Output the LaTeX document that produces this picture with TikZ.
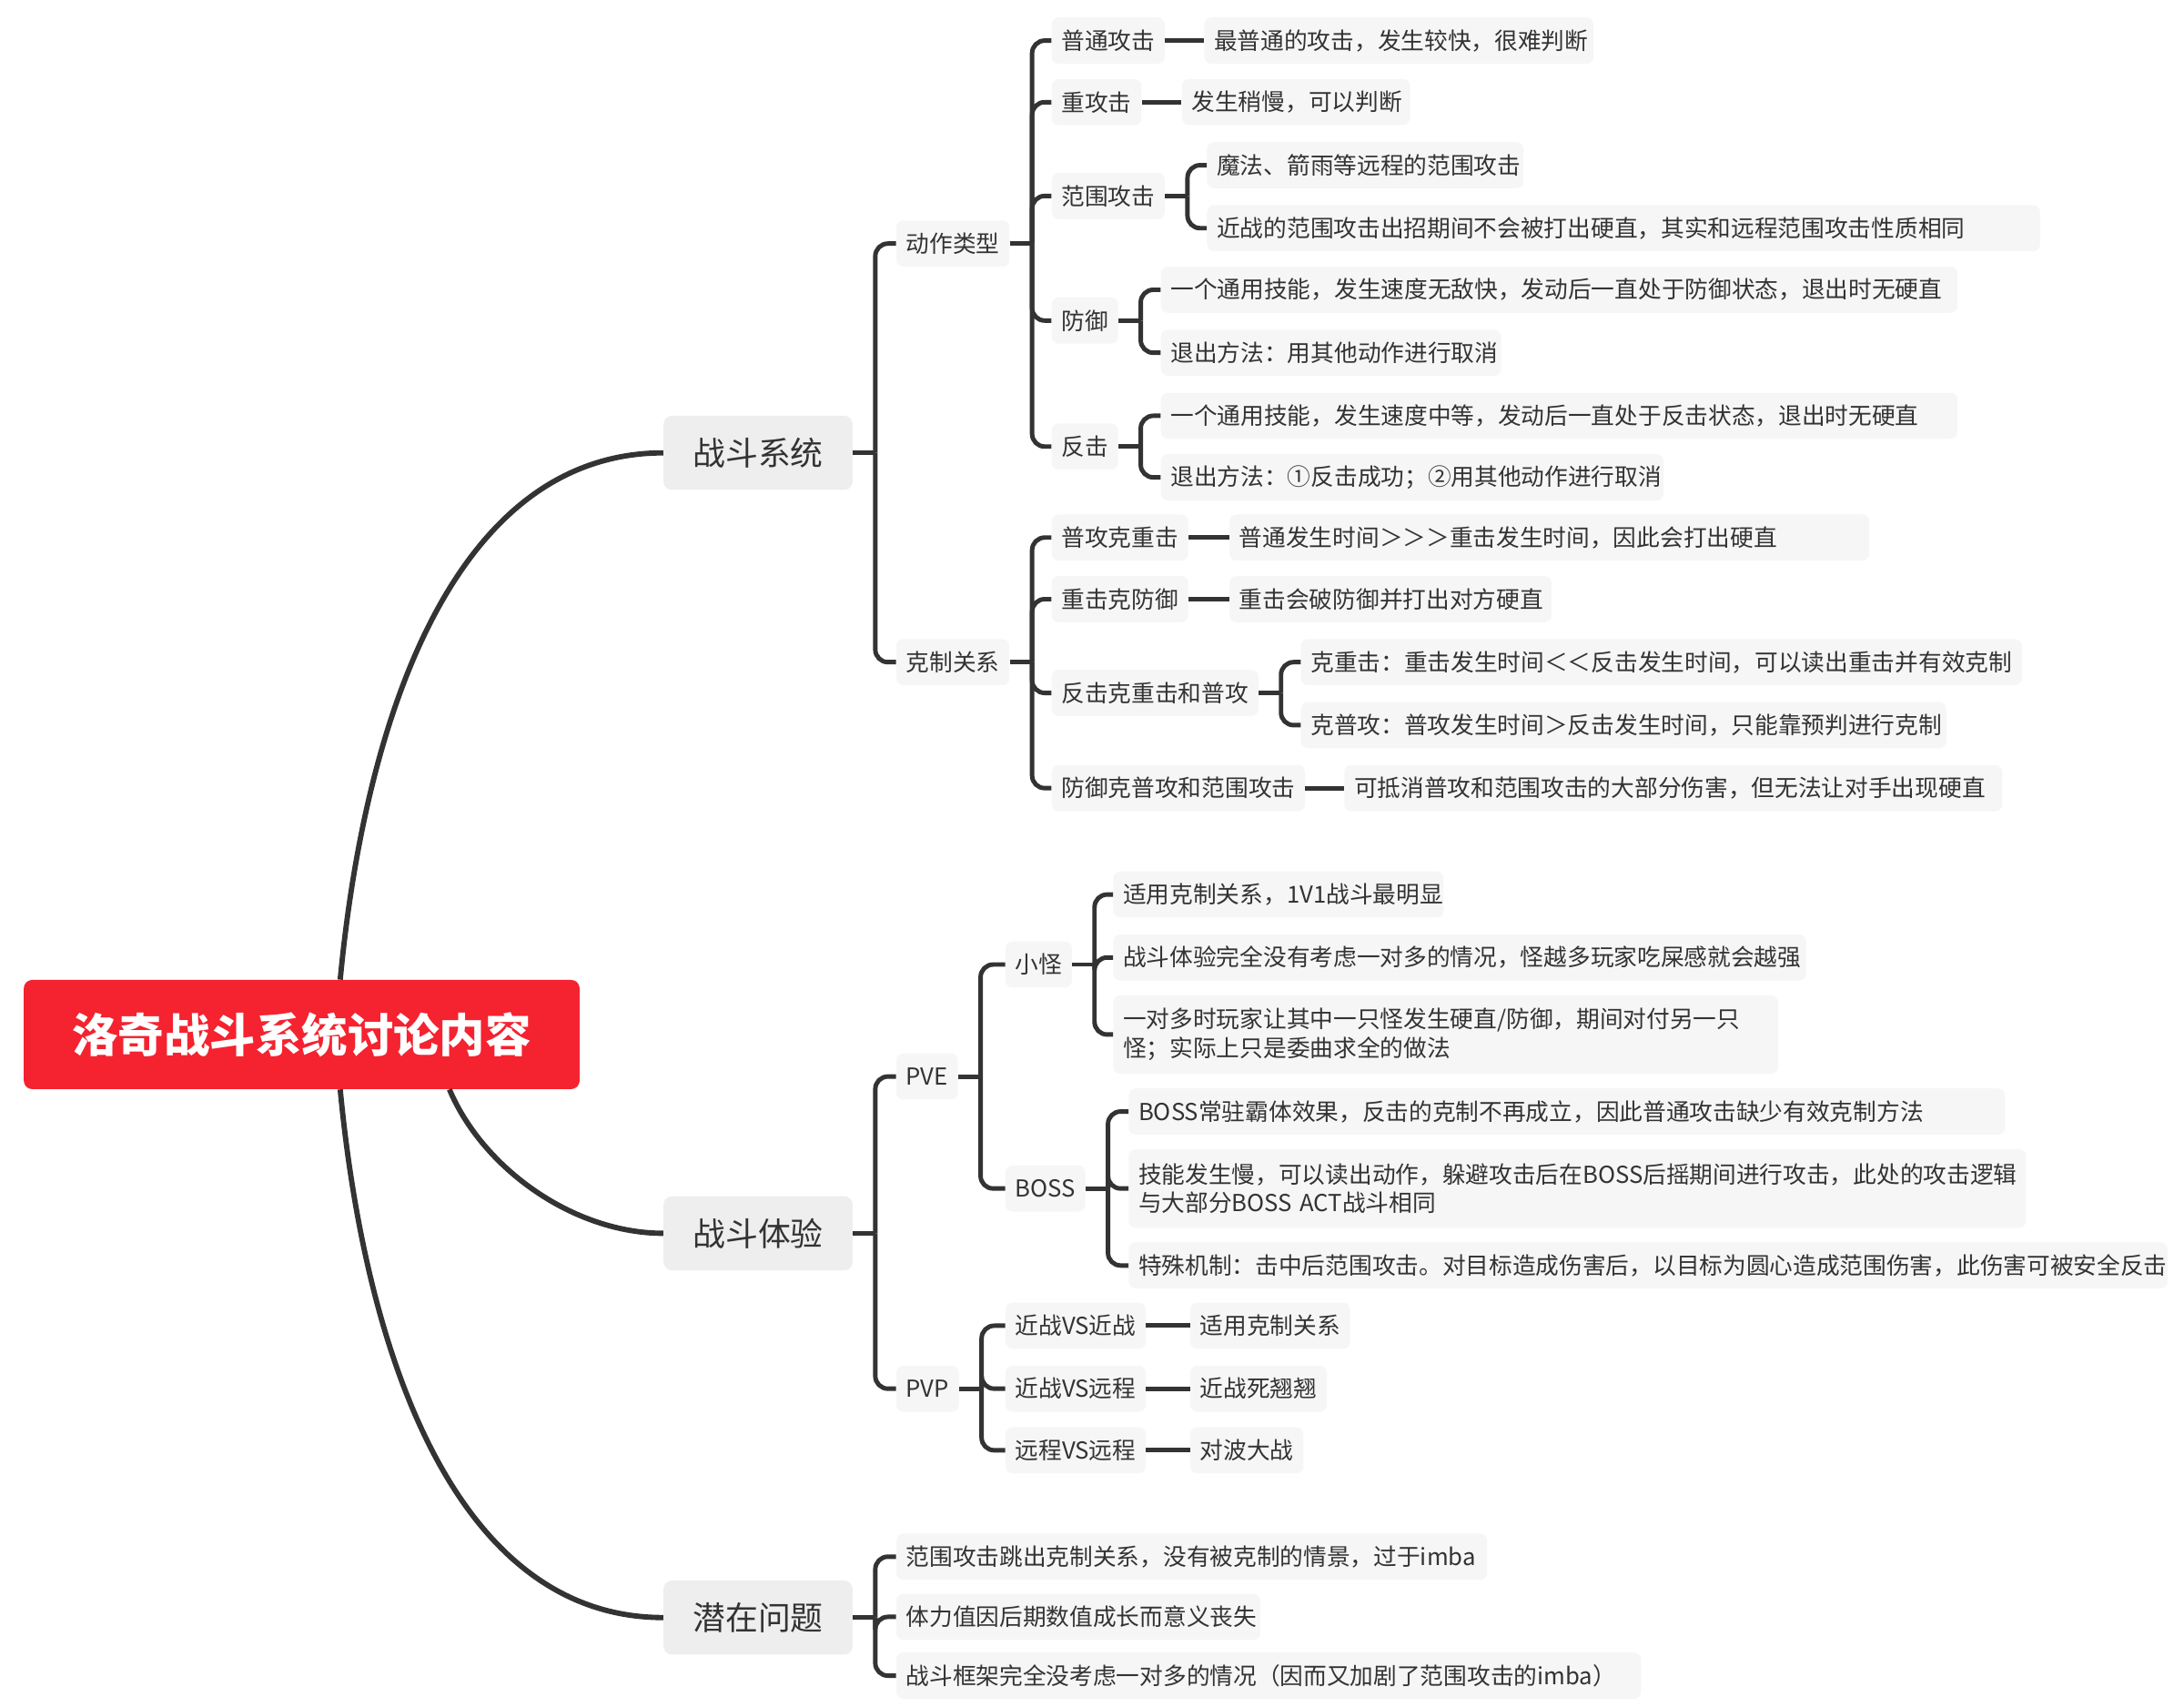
\documentclass[tikz,border=0pt]{standalone}
\usepackage{fontspec}
\setmainfont{Noto Sans CJK SC}
\usepackage{tikz}
\usetikzlibrary{positioning}

\definecolor{rootred}{HTML}{F52230}
\definecolor{topicfill}{HTML}{EEEEEE}
\definecolor{leaffill}{HTML}{F6F6F6}
\definecolor{ink}{HTML}{333333}

\tikzset{
  root/.style={fill=rootred, rounded corners=6pt, text=white,
    font=\fontsize{32.8pt}{38pt}\selectfont\bfseries,
    minimum width=397pt, minimum height=78pt},
  topic/.style={fill=topicfill, rounded corners=6pt, text=ink,
    font=\fontsize{23.3pt}{28pt}\selectfont,
    minimum width=135pt, minimum height=53pt},
  leaf/.style={fill=leaffill, rounded corners=5pt, text=ink,
    font=\fontsize{16.7pt}{20.5pt}\selectfont,
    minimum height=33pt, inner xsep=7pt, inner ysep=0pt, anchor=west},
  tw/.style={text width=#1, align=left},
  conn/.style={draw=ink, line width=3.2pt, rounded corners=9pt},
  curve/.style={draw=ink, line width=3.8pt},
}

\begin{document}
\begin{tikzpicture}[x=1pt,y=-1pt]
  \useasboundingbox (0,0) rectangle (1560,1218.75);

  % centre and topics
  \node[root] (root) at (215.5,739) {洛奇战斗系统讨论内容};
  \node[topic] (zdxt) at (541.5,323.5) {战斗系统};
  \node[topic] (zdty) at (541.5,881) {战斗体验};
  \node[topic] (qzwt) at (541.5,1155.5) {潜在问题};

  \coordinate (r-up) at ([xshift=27.5pt]root.north);
  \coordinate (r-mid) at ([xshift=105.5pt]root.south);
  \coordinate (r-low) at ([xshift=27.5pt]root.south);
  \draw[curve] (r-up) .. controls (262,500) and (330,323.5) .. (zdxt.west);
  \draw[curve] (r-mid) .. controls (345,835) and (410,881) .. (zdty.west);
  \draw[curve] (r-low) .. controls (262,978) and (330,1155.5) .. (qzwt.west);

  % second level
  \node[leaf] (dzlx) at (640,174) {动作类型};
  \node[leaf] (kzgx) at (640,473) {克制关系};
  \node[leaf] (pve) at (640,769) {PVE};
  \node[leaf] (pvp) at (640,992) {PVP};
  \node[leaf,tw=408pt] (wt1) at (640,1112) {范围攻击跳出克制关系，没有被克制的情景，过于imba};
  \node[leaf,tw=246pt] (wt2) at (640,1155) {体力值因后期数值成长而意义丧失};
  \node[leaf,tw=518pt] (wt3) at (640,1197) {战斗框架完全没考虑一对多的情况（因而又加剧了范围攻击的imba）};

  % action types
  \node[leaf] (ptgj) at (751,29) {普通攻击};
  \node[leaf] (zgj) at (751,73) {重攻击};
  \node[leaf] (fwgj) at (751,140) {范围攻击};
  \node[leaf] (fy) at (751,229) {防御};
  \node[leaf] (fj) at (751,319) {反击};

  \node[leaf,tw=264pt] (ptgj-t) at (860,29) {最普通的攻击，发生较快，很难判断};
  \node[leaf,tw=149pt] (zgj-t) at (844,73) {发生稍慢，可以判断};
  \node[leaf,tw=212pt] (fwgj-1) at (862,118) {魔法、箭雨等远程的范围攻击};
  \node[leaf,tw=581pt] (fwgj-2) at (862,163) {近战的范围攻击出招期间不会被打出硬直，其实和远程范围攻击性质相同};
  \node[leaf,tw=555pt] (fy-1) at (829,207) {一个通用技能，发生速度无敌快，发动后一直处于防御状态，退出时无硬直};
  \node[leaf,tw=229pt] (fy-2) at (829,252) {退出方法：用其他动作进行取消};
  \node[leaf,tw=555pt] (fj-1) at (829,297) {一个通用技能，发生速度中等，发动后一直处于反击状态，退出时无硬直};
  \node[leaf,tw=345pt] (fj-2) at (829,341) {退出方法：①反击成功；②用其他动作进行取消};

  % counters
  \node[leaf] (pkz) at (751,384) {普攻克重击};
  \node[leaf] (zkf) at (751,428) {重击克防御};
  \node[leaf] (fkz) at (751,495) {反击克重击和普攻};
  \node[leaf] (fykp) at (751,563) {防御克普攻和范围攻击};

  \node[leaf,tw=443pt] (pkz-t) at (878,384) {普通发生时间＞＞＞重击发生时间，因此会打出硬直};
  \node[leaf,tw=216pt] (zkf-t) at (878,428) {重击会破防御并打出对方硬直};
  \node[leaf,tw=501pt] (fkz-1) at (929,473) {克重击：重击发生时间＜＜反击发生时间，可以读出重击并有效克制};
  \node[leaf,tw=447pt] (fkz-2) at (929,518) {克普攻：普攻发生时间＞反击发生时间，只能靠预判进行克制};
  \node[leaf,tw=456pt] (fykp-t) at (960,563) {可抵消普攻和范围攻击的大部分伤害，但无法让对手出现硬直};

  % PVE / PVP
  \node[leaf] (xg) at (718,689) {小怪};
  \node[leaf] (boss) at (718,849) {BOSS};
  \node[leaf] (jj) at (718,947) {近战VS近战};
  \node[leaf] (jy) at (718,992) {近战VS远程};
  \node[leaf] (yy) at (718,1036) {远程VS远程};

  \node[leaf,tw=222pt] (xg-1) at (795,639) {适用克制关系，1V1战斗最明显};
  \node[leaf,tw=481pt] (xg-2) at (795,684) {战斗体验完全没有考虑一对多的情况，怪越多玩家吃屎感就会越强};
  \node[leaf,tw=461pt,minimum height=56pt] (xg-3) at (795,739) {一对多时玩家让其中一只怪发生硬直/防御，期间对付另一只\\怪；实际上只是委曲求全的做法};
  \node[leaf,tw=612pt] (boss-1) at (806,794) {BOSS常驻霸体效果，反击的克制不再成立，因此普通攻击缺少有效克制方法};
  \node[leaf,tw=627pt,minimum height=56pt] (boss-2) at (806,849) {技能发生慢，可以读出动作，躲避攻击后在BOSS后摇期间进行攻击，此处的攻击逻辑\\与大部分BOSS ACT战斗相同};
  \node[leaf,tw=728pt] (boss-3) at (806,904) {特殊机制：击中后范围攻击。对目标造成伤害后，以目标为圆心造成范围伤害，此伤害可被安全反击};
  \node[leaf] (jj-t) at (850,947) {适用克制关系};
  \node[leaf] (jy-t) at (850,992) {近战死翘翘};
  \node[leaf] (yy-t) at (850,1036) {对波大战};

  % brackets
  \coordinate (zdxt-b) at ([xshift=16pt]zdxt.east);
  \draw[conn] (zdxt.east) -- (zdxt-b);
  \foreach \c in {dzlx,kzgx} \draw[conn] (zdxt-b) |- (\c.west);

  \coordinate (zdty-b) at ([xshift=16pt]zdty.east);
  \draw[conn] (zdty.east) -- (zdty-b);
  \foreach \c in {pve,pvp} \draw[conn] (zdty-b) |- (\c.west);

  \coordinate (qzwt-b) at ([xshift=16pt]qzwt.east);
  \draw[conn] (qzwt.east) -- (qzwt-b);
  \foreach \c in {wt1,wt2,wt3} \draw[conn] (qzwt-b) |- (\c.west);

  \coordinate (dzlx-b) at ([xshift=16pt]dzlx.east);
  \draw[conn] (dzlx.east) -- (dzlx-b);
  \foreach \c in {ptgj,zgj,fwgj,fy,fj} \draw[conn] (dzlx-b) |- (\c.west);

  \coordinate (kzgx-b) at ([xshift=16pt]kzgx.east);
  \draw[conn] (kzgx.east) -- (kzgx-b);
  \foreach \c in {pkz,zkf,fkz,fykp} \draw[conn] (kzgx-b) |- (\c.west);

  \coordinate (fwgj-b) at ([xshift=16pt]fwgj.east);
  \draw[conn] (fwgj.east) -- (fwgj-b);
  \foreach \c in {fwgj-1,fwgj-2} \draw[conn] (fwgj-b) |- (\c.west);

  \coordinate (fy-b) at ([xshift=16pt]fy.east);
  \draw[conn] (fy.east) -- (fy-b);
  \foreach \c in {fy-1,fy-2} \draw[conn] (fy-b) |- (\c.west);

  \coordinate (fj-b) at ([xshift=16pt]fj.east);
  \draw[conn] (fj.east) -- (fj-b);
  \foreach \c in {fj-1,fj-2} \draw[conn] (fj-b) |- (\c.west);

  \coordinate (fkz-b) at ([xshift=16pt]fkz.east);
  \draw[conn] (fkz.east) -- (fkz-b);
  \foreach \c in {fkz-1,fkz-2} \draw[conn] (fkz-b) |- (\c.west);

  \coordinate (pve-b) at ([xshift=16pt]pve.east);
  \draw[conn] (pve.east) -- (pve-b);
  \foreach \c in {xg,boss} \draw[conn] (pve-b) |- (\c.west);

  \coordinate (pvp-b) at ([xshift=16pt]pvp.east);
  \draw[conn] (pvp.east) -- (pvp-b);
  \foreach \c in {jj,jy,yy} \draw[conn] (pvp-b) |- (\c.west);

  \coordinate (xg-b) at ([xshift=16pt]xg.east);
  \draw[conn] (xg.east) -- (xg-b);
  \foreach \c in {xg-1,xg-2,xg-3} \draw[conn] (xg-b) |- (\c.west);

  \coordinate (boss-b) at ([xshift=16pt]boss.east);
  \draw[conn] (boss.east) -- (boss-b);
  \foreach \c in {boss-1,boss-2,boss-3} \draw[conn] (boss-b) |- (\c.west);

  % single links
  \foreach \a in {ptgj,zgj,pkz,zkf,fykp,jj,jy,yy}
    \draw[conn] (\a.east) -- (\a-t.west);
\end{tikzpicture}
\end{document}
